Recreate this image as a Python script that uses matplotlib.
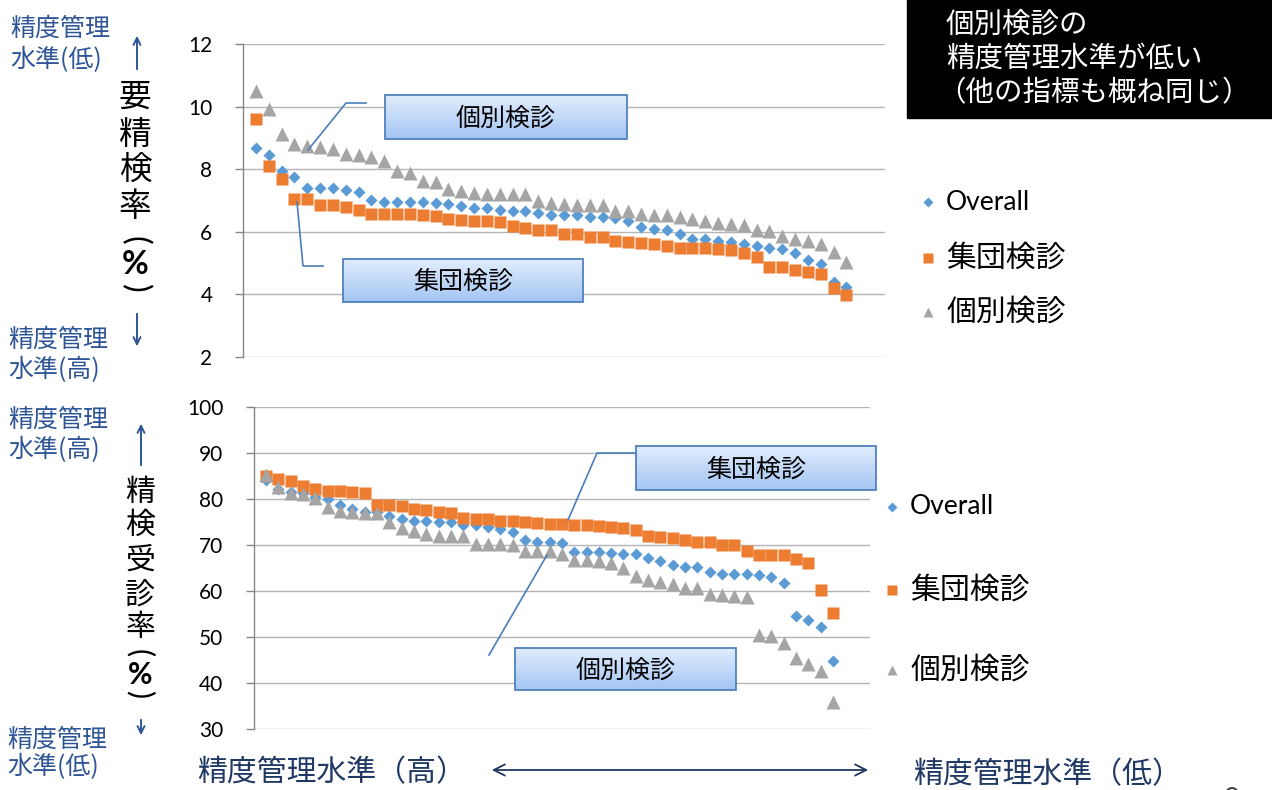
import numpy as np
import matplotlib
matplotlib.use("Agg")
import matplotlib.pyplot as plt
from matplotlib.patches import Rectangle

plt.rcParams['font.family'] = ['Lato', 'Noto Sans CJK JP', 'DejaVu Sans']

# 都道府県（47）を全体の精度管理水準順に並べた順位
rank = list(range(1, 48))

# 要精検率（%）
pos_overall = [8.69, 8.44, 7.93, 7.74, 7.41, 7.41, 7.41, 7.33, 7.27, 7.02,
               6.95, 6.95, 6.95, 6.95, 6.93, 6.90, 6.82, 6.77, 6.75, 6.70,
               6.68, 6.68, 6.61, 6.54, 6.54, 6.54, 6.48, 6.48, 6.43, 6.36,
               6.15, 6.08, 6.06, 5.94, 5.76, 5.76, 5.72, 5.69, 5.60, 5.55,
               5.48, 5.44, 5.32, 5.11, 4.96, 4.41, 4.24]
pos_group = [9.59, 8.11, 7.70, 7.06, 7.06, 6.86, 6.85, 6.80, 6.71, 6.57,
             6.57, 6.57, 6.56, 6.55, 6.49, 6.42, 6.38, 6.36, 6.36, 6.30,
             6.20, 6.11, 6.06, 6.05, 5.92, 5.92, 5.84, 5.84, 5.72, 5.69,
             5.64, 5.60, 5.56, 5.49, 5.47, 5.47, 5.44, 5.43, 5.32, 5.19,
             4.88, 4.87, 4.79, 4.73, 4.66, 4.21, 3.98]
pos_indiv = [10.51, 9.92, 9.13, 8.80, 8.74, 8.72, 8.65, 8.49, 8.45, 8.40,
             8.27, 7.95, 7.87, 7.62, 7.60, 7.37, 7.31, 7.23, 7.21, 7.22,
             7.21, 7.20, 7.00, 6.93, 6.88, 6.87, 6.87, 6.86, 6.68, 6.65,
             6.56, 6.54, 6.54, 6.48, 6.40, 6.35, 6.27, 6.24, 6.21, 6.05,
             6.02, 5.88, 5.77, 5.72, 5.60, 5.36, 5.03]

# 精検受診率（%）
fu_overall = [84.1, 82.1, 81.6, 81.2, 80.5, 79.9, 78.7, 77.8, 77.2, 77.1,
              76.4, 75.7, 75.2, 75.2, 75.1, 75.0, 74.4, 74.3, 73.9, 73.5,
              72.8, 71.0, 70.7, 70.7, 70.5, 68.5, 68.5, 68.5, 68.3, 68.1,
              68.1, 67.1, 66.5, 65.7, 65.2, 65.2, 64.1, 63.7, 63.7, 63.7,
              63.5, 63.0, 61.8, 54.6, 53.8, 52.2, 44.7]
fu_group = [84.9, 84.3, 84.0, 82.9, 82.1, 81.8, 81.7, 81.6, 81.2, 78.8,
            78.6, 78.5, 77.9, 77.7, 77.2, 77.0, 75.8, 75.7, 75.7, 75.3,
            75.2, 75.1, 74.7, 74.6, 74.5, 74.3, 74.3, 74.1, 74.0, 73.8,
            73.2, 71.9, 71.7, 71.6, 71.1, 70.7, 70.6, 70.0, 69.9, 68.7,
            67.9, 67.8, 67.8, 67.0, 66.0, 60.3, 55.3]
fu_indiv = [85.2, 82.6, 81.2, 81.0, 80.3, 78.2, 77.4, 77.2, 76.9, 76.9,
            74.9, 73.8, 73.1, 72.3, 72.0, 72.0, 72.0, 70.3, 70.3, 70.2,
            70.0, 68.7, 68.6, 68.6, 68.1, 66.8, 66.8, 66.6, 66.0, 65.0,
            63.2, 62.4, 62.0, 61.5, 60.6, 60.6, 59.3, 59.1, 59.0, 58.8,
            50.5, 50.3, 48.6, 45.5, 44.1, 42.7, 35.9]

series_names = ['Overall', '集団検診', '個別検診']
top_ticks = [2, 4, 6, 8, 10, 12]
bottom_ticks = [30, 40, 50, 60, 70, 80, 90, 100]

C_OVERALL = '#5B9BD5'
C_GROUP = '#ED7D31'
C_INDIV = '#A5A5A5'
BLUE_TXT = '#2E5596'
NAVY = '#1F3864'
GRID = '#B4B4B4'
JP = ['Noto Sans CJK JP', 'DejaVu Sans']

W, H = 1272, 790
fig = plt.figure(figsize=(W / 100, H / 100), dpi=100)


def px_axes(left, top, right, bottom):
    return fig.add_axes([left / W, 1 - bottom / H, (right - left) / W, (bottom - top) / H])


def style_axes(ax, ylim, ticks):
    ax.set_xlim(0, 50)
    ax.set_ylim(*ylim)
    ax.set_yticks(ticks)
    ax.set_xticks([])
    ax.grid(axis='y', color=GRID, lw=1.0)
    ax.set_axisbelow(True)
    for s in ('top', 'right', 'bottom'):
        ax.spines[s].set_visible(False)
    ax.spines['left'].set_color('#868686')
    ax.spines['left'].set_linewidth(1.0)
    ax.tick_params(axis='y', direction='out', length=6, width=1.0,
                   color='#868686', labelsize=15, pad=16, labelcolor='#000000')


def scatter3(ax, a, b, c):
    ax.plot(rank, a, ls='none', marker='D', ms=6.5, color=C_OVERALL, mec='none', zorder=3)
    ax.plot(rank, b, ls='none', marker='s', ms=8.5, color=C_GROUP, mec='none', zorder=4)
    ax.plot(rank, c, ls='none', marker='^', ms=9.5, color=C_INDIV, mec='none', zorder=5)


ax1 = px_axes(243, 44, 885, 357)
style_axes(ax1, (2, 12), top_ticks)
scatter3(ax1, pos_overall, pos_group, pos_indiv)

ax2 = px_axes(253.7, 407, 870, 729)
style_axes(ax2, (30, 100), bottom_ticks)
scatter3(ax2, fu_overall, fu_group, fu_indiv)

# overlay in pixel coordinates for annotations
ov = fig.add_axes([0, 0, 1, 1], zorder=10)
ov.set_xlim(0, W)
ov.set_ylim(H, 0)
ov.axis('off')
ov.patch.set_alpha(0)


def grad_box(x0, y0, x1, y1, label, fs=18):
    t = np.linspace(0, 1, 64)[:, None, None]
    top = np.array([0.88, 0.93, 0.995])
    bot = np.array([0.64, 0.77, 0.95])
    img = top + (bot - top) * t
    ov.imshow(img, extent=(x0, x1, y1, y0), aspect='auto', zorder=5)
    ov.add_patch(Rectangle((x0, y0), x1 - x0, y1 - y0, fill=False,
                           ec='#4F81BD', lw=1.3, zorder=6))
    ov.text((x0 + x1) / 2, (y0 + y1) / 2 + 1, label, ha='center', va='center',
            fontsize=fs, color='#000000', zorder=7)


LINE = '#4A7EBB'
# callouts, upper chart
grad_box(385, 95, 627, 139, '個別検診')
ov.plot([366, 346, 308], [103, 103, 150], color=LINE, lw=1.2, zorder=4)
grad_box(343, 259, 583, 302, '集団検診')
ov.plot([323, 303, 297], [266, 266, 202], color=LINE, lw=1.2, zorder=4)

# callouts, lower chart
grad_box(636, 446, 876, 490, '集団検診')
ov.plot([636, 597, 568], [453, 453, 520], color=LINE, lw=1.2, zorder=4)
grad_box(515, 648, 736, 690, '個別検診')
ov.plot([489, 547], [655, 555], color=LINE, lw=1.2, zorder=4)

ov.set_xlim(0, W)
ov.set_ylim(H, 0)

# black note box
ov.add_patch(Rectangle((907, 0), W - 907, 118, color='#000000', zorder=5))
for x, y, s in zip([946, 946, 937], [25, 59, 93],
                   ['個別検診の', '精度管理水準が低い', '（他の指標も概ね同じ）']):
    ov.text(x, y, s, color='white', fontsize=20.5,
            ha='left', va='center', zorder=6, family=JP)

# legends
def legend_block(xm, xt, ys):
    ov.plot(xm, ys[0], marker='D', ms=5.5, color=C_OVERALL, mec='none', zorder=6)
    ov.plot(xm, ys[1], marker='s', ms=7, color=C_GROUP, mec='none', zorder=6)
    ov.plot(xm, ys[2], marker='^', ms=7.5, color=C_INDIV, mec='none', zorder=6)
    ov.text(xt, ys[0], series_names[0], fontsize=19, va='center', ha='left')
    ov.text(xt, ys[1], series_names[1], fontsize=21.5, va='center', ha='left')
    ov.text(xt, ys[2], series_names[2], fontsize=21.5, va='center', ha='left')


legend_block(928, 946, [202, 258, 312])
legend_block(892, 910, [507, 590, 670])

# vertical axis titles: stacked characters, parentheses turned for vertical writing
def vlabel(x, ys, chars, fs):
    for y, ch in zip(ys, chars):
        if ch in '()':
            ov.text(x, y, ch, fontsize=fs, ha='center', va='center', rotation=-90,
                    rotation_mode='anchor', color='#000000', family=['Lato'])
        elif ch == '%':
            ov.text(x, y, ch, fontsize=fs, ha='center', va='center', color='#000000',
                    fontweight='bold', family=['Lato'])
        else:
            ov.text(x, y, ch, fontsize=fs, ha='center', va='center', color='#000000',
                    family=JP)


vlabel(135, [98, 136, 170, 207, 240, 264, 288],
       ['要', '精', '検', '率', '(', '%', ')'], 23.5)
vlabel(140, [492, 525, 560, 595, 628, 653, 675, 695],
       ['精', '検', '受', '診', '率', '(', '%', ')'], 21.5)

# blue side notes
def side_note(x, y1, y2, s2):
    ov.text(x, y1, '精度管理', fontsize=18, color=BLUE_TXT, ha='left', va='center',
            family=JP)
    ov.text(x, y2, s2, fontsize=18, color=BLUE_TXT, ha='left', va='center',
            family=JP)


side_note(10, 29, 60, '水準(低)')
side_note(8, 340, 370, '水準(高)')
side_note(8, 420, 450, '水準(高)')
side_note(7, 740, 767, '水準(低)')

arrow_kw = dict(arrowstyle='->,head_length=0.5,head_width=0.25', color=BLUE_TXT, lw=1.4)
ov.annotate('', xy=(137, 33), xytext=(137, 72), arrowprops=arrow_kw)
ov.annotate('', xy=(137, 349), xytext=(137, 311), arrowprops=arrow_kw)
ov.annotate('', xy=(141, 421), xytext=(141, 468), arrowprops=arrow_kw)
ov.annotate('', xy=(141, 738), xytext=(141, 717), arrowprops=arrow_kw)

# horizontal axis caption
ov.text(197, 773, '精度管理水準（高）', fontsize=21.5, color=NAVY, ha='left', va='center',
        family=JP)
ov.text(913, 775, '精度管理水準（低）', fontsize=21.5, color=NAVY, ha='left', va='center',
        family=JP)
ov.annotate('', xy=(489, 770), xytext=(871, 770),
            arrowprops=dict(arrowstyle='<->,head_length=0.8,head_width=0.4',
                            color=NAVY, lw=1.3))
ov.text(1232, 800, '9', fontsize=20, color='#404040', ha='center', va='center')

fig.savefig('out.png', dpi=100)
